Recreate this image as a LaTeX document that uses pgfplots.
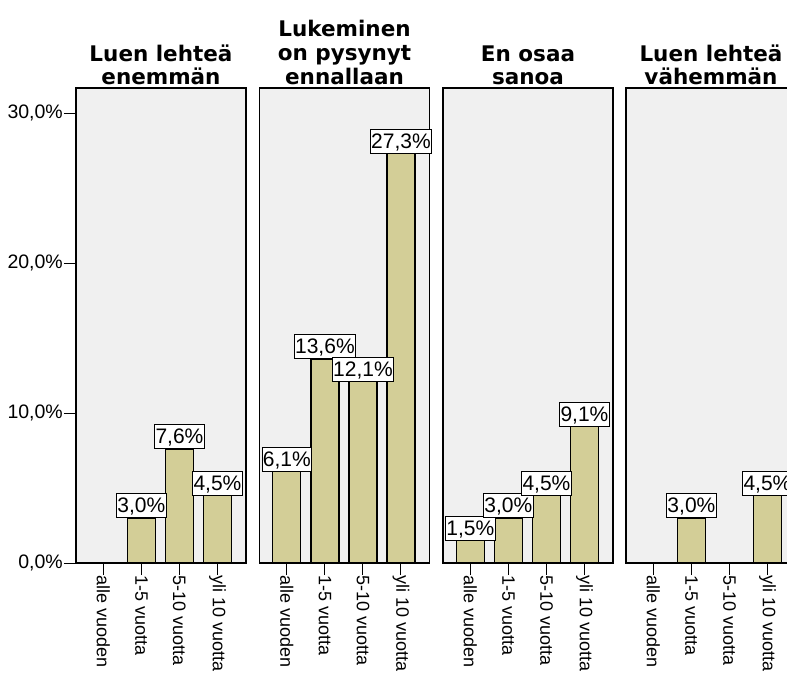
\documentclass[border=0pt]{standalone}
\usepackage{pgfplots}
\pgfplotsset{compat=1.18}
\usepackage{fontspec}
\setmainfont{Liberation Sans}
\newfontfamily\titlefont{DejaVu Sans}
\definecolor{barfill}{RGB}{211,206,151}
\definecolor{panelbg}{RGB}{240,240,240}

\pgfplotsset{
  panel/.style={
    scale only axis,
    width=170pt, height=475pt,
    anchor=south west,
    xmin=-0.72, xmax=3.75,
    ymin=0, ymax=31.67,
    axis background/.style={fill=panelbg},
    axis line style={black, line width=1.4pt},
    tick align=outside,
    tick pos=left,
    major tick length=12pt,
    tick style={black, line width=1pt},
    xtick={0,1,2,3},
    xticklabels={alle vuoden,1-5 vuotta,5-10 vuotta,yli 10 vuotta},
    xticklabel style={rotate=-90, anchor=west, font=\fontsize{18}{20}\selectfont, inner sep=0pt},
    ybar, bar width=28pt,
    nodes near coords={\pgfmathprintnumber{\pgfplotspointmeta}\%},
    nodes near coords style={draw=black, fill=white, line width=0.8pt, inner xsep=1pt, inner ysep=1pt, text height=18pt, text depth=4pt, font=\fontsize{21}{24}\selectfont, anchor=south, text=black},
    /pgf/number format/fixed,
    /pgf/number format/fixed zerofill,
    /pgf/number format/precision=1,
    /pgf/number format/use comma,
    /pgf/number format/assume math mode=true,
    clip=false,
  },
  bars/.style={fill=barfill, draw=black, line width=1.2pt},
}

\begin{document}
\begin{tikzpicture}
\begin{axis}[panel, name=p1, at={(76pt,-563pt)},
  ytick={0,10,20,30},
  yticklabels={{0,0\%},{10,0\%},{20,0\%},{30,0\%}},
  yticklabel style={font=\fontsize{19.5}{22}\selectfont, inner sep=1pt}]
\addplot[bars] coordinates {(1,3.0) (2,7.6) (3,4.5)};
\end{axis}
\begin{axis}[panel, name=p2, at={(259.5pt,-563pt)}, ytick=\empty]
\addplot[bars] coordinates {(0,6.1) (1,13.6) (2,12.1) (3,27.3)};
\end{axis}
\begin{axis}[panel, name=p3, at={(443pt,-563pt)}, ytick=\empty]
\addplot[bars] coordinates {(0,1.5) (1,3.0) (2,4.5) (3,9.1)};
\end{axis}
\begin{axis}[panel, name=p4, at={(626pt,-563pt)}, ytick=\empty]
\addplot[bars] coordinates {(1,3.0) (3,4.5)};
\end{axis}

\tikzset{ttl/.style={font=\titlefont\bfseries\fontsize{21.5}{24}\selectfont, anchor=base, inner sep=0pt}}
\node[ttl] at ([yshift=27pt]p1.north) {Luen lehteä};
\node[ttl] at ([yshift=4pt]p1.north) {enemmän};
\node[ttl] at ([yshift=52pt]p2.north) {Lukeminen};
\node[ttl] at ([yshift=28pt]p2.north) {on pysynyt};
\node[ttl] at ([yshift=4pt]p2.north) {ennallaan};
\node[ttl] at ([yshift=27pt]p3.north) {En osaa};
\node[ttl] at ([yshift=4pt]p3.north) {sanoa};
\node[ttl] at ([yshift=27pt]p4.north) {Luen lehteä};
\node[ttl] at ([yshift=4pt]p4.north) {vähemmän};

\pgfresetboundingbox
\path[use as bounding box] (0pt,-673pt) rectangle (787pt,0pt);
\end{tikzpicture}
\end{document}
